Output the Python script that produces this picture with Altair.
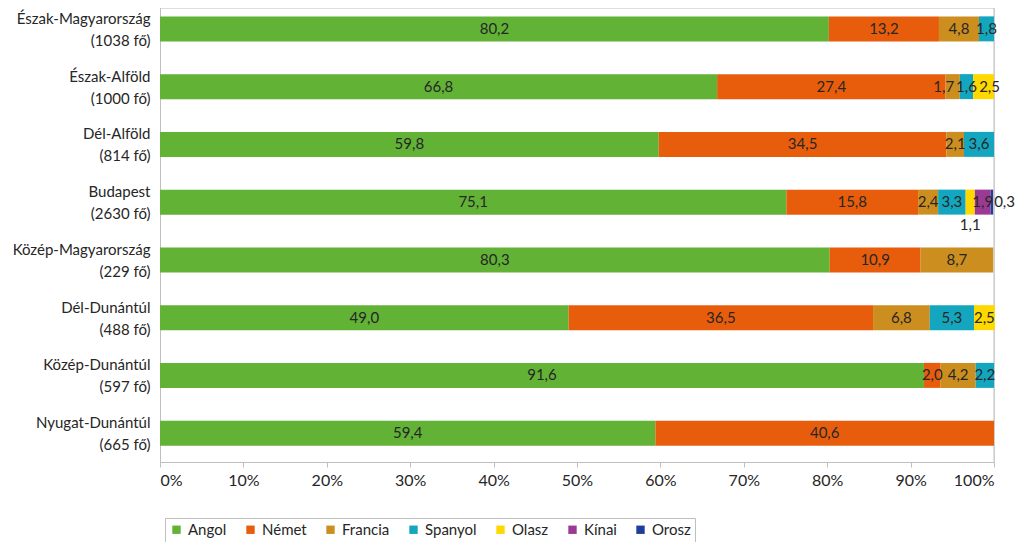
import altair as alt
import pandas as pd

regions = ["Észak-Magyarország", "Észak-Alföld", "Dél-Alföld", "Budapest",
           "Közép-Magyarország", "Dél-Dunántúl", "Közép-Dunántúl", "Nyugat-Dunántúl"]
counts = [1038, 1000, 814, 2630, 229, 488, 597, 665]
languages = ["Angol", "Német", "Francia", "Spanyol", "Olasz", "Kínai", "Orosz"]
colors = ["#62B236", "#E85D0C", "#CC8E1E", "#14A6BE", "#FFD800", "#9B3A93", "#1F3D99"]

angol   = [80.2, 66.8, 59.8, 75.1, 80.3, 49.0, 91.6, 59.4]
nemet   = [13.2, 27.4, 34.5, 15.8, 10.9, 36.5, 2.0, 40.6]
francia = [4.8, 1.7, 2.1, 2.4, 8.7, 6.8, 4.2, None]
spanyol = [1.8, 1.6, 3.6, 3.3, None, 5.3, 2.2, None]
olasz   = [None, 2.5, None, 1.1, None, 2.5, None, None]
kinai   = [None, None, None, 1.9, None, None, None, None]
orosz   = [None, None, None, 0.3, None, None, None, None]

series = [angol, nemet, francia, spanyol, olasz, kinai, orosz]
rows = []
for i, reg in enumerate(regions):
    label = f"{reg}|({counts[i]} fő)"
    for j, lang in enumerate(languages):
        v = series[j][i]
        if v is not None:
            rows.append({"region": label, "lang": lang, "order": j, "value": v})
df = pd.DataFrame(rows)
region_labels = [f"{r}|({c} fő)" for r, c in zip(regions, counts)]

FONT = "Lato"
FS = 16
TXT = "#262626"

base = alt.Chart(df).transform_stack(
    stack="value", groupby=["region"], as_=["x0", "x1"],
    sort=[alt.SortField("order", order="ascending")]
).transform_calculate(
    mid="(datum.x0 + datum.x1) / 2",
    lbl="replace(format(datum.value, '.1f'), '.', ',')",
)

yenc = alt.Y("region:N", sort=region_labels,
             scale=alt.Scale(range=[-8, 454], paddingInner=0, paddingOuter=0),
             axis=alt.Axis(title=None, ticks=False, domainColor="#BFBFBF",
                           labelExpr="split(datum.label, '|')",
                           labelFont=FONT, labelFontSize=15, labelColor=TXT,
                           labelLineHeight=22, labelOffset=-10, labelPadding=10,
                           labelAlign="right", labelBaseline="middle", labelLimit=200))

xscale = alt.Scale(domain=[0, 100], nice=False)

bars = base.mark_bar(size=25).encode(
    x=alt.X("x0:Q", scale=xscale,
            axis=alt.Axis(title=None, values=list(range(0, 101, 10)),
                          labelExpr="datum.value + '%'", grid=False,
                          domainColor="#BFBFBF", tickColor="#BFBFBF", tickSize=5,
                          labelFont=FONT, labelFontSize=FS, labelColor=TXT,
                          labelPadding=5)),
    x2="x1:Q",
    y=yenc,
    color=alt.Color("lang:N", sort=languages,
                    scale=alt.Scale(domain=languages, range=colors),
                    legend=alt.Legend(title=None, orient="none", direction="horizontal",
                                      legendX=5, legendY=510, columns=7,
                                      symbolType="square", symbolSize=70,
                                      symbolStrokeWidth=0, labelFont=FONT,
                                      labelFontSize=15, labelColor=TXT,
                                      columnPadding=16, labelOffset=4,
                                      strokeColor="#BFBFBF", padding=4)),
    order=alt.Order("order:Q"),
)

sel_b = "datum.region == 'Budapest|(2630 fő)'"
sel_eaf = "datum.region == 'Észak-Alföld|(1000 fő)' && datum.lang == 'Francia'"
sel_eao = "datum.region == 'Észak-Alföld|(1000 fő)' && datum.lang == 'Olasz'"
is_special = ("(" + sel_b + " && (datum.lang == 'Olasz' || datum.lang == 'Orosz')) || ("
              + sel_eaf + ") || (" + sel_eao + ")")

def txt(**kw):
    return base.mark_text(font=FONT, fontSize=15, color=TXT, baseline="middle", **kw)

texts = txt().encode(
    x=alt.X("mid:Q", scale=xscale), y=yenc, text="lbl:N"
).transform_filter("!(" + is_special + ")")

eaf_txt = txt(dx=-9).encode(
    x=alt.X("mid:Q", scale=xscale), y=yenc, text="lbl:N"
).transform_filter(sel_eaf)

eao_txt = txt(dx=6).encode(
    x=alt.X("mid:Q", scale=xscale), y=yenc, text="lbl:N"
).transform_filter(sel_eao)

olasz_txt = txt(dy=23).encode(
    x=alt.X("mid:Q", scale=xscale), y=yenc, text="lbl:N"
).transform_filter(sel_b + " && datum.lang == 'Olasz'")

orosz_txt = txt(align="left", dx=1).encode(
    x=alt.X("x1:Q", scale=xscale), y=yenc, text="lbl:N"
).transform_filter(sel_b + " && datum.lang == 'Orosz'")

rule = alt.Chart(pd.DataFrame({"v": [100]})).mark_rule(color="#BFBFBF", strokeWidth=1).encode(
    x=alt.X("v:Q", scale=xscale)
)

chart = alt.layer(rule, bars, texts, eaf_txt, eao_txt, olasz_txt, orosz_txt).properties(
    width=834, height=454,
    autosize=alt.AutoSizeParams(type="none"),
    padding={"left": 152, "top": 0, "right": 21, "bottom": 80},
).configure_view(stroke=None).configure(font=FONT)

chart.save("out.html", embed_options={"renderer": "svg", "actions": False})
